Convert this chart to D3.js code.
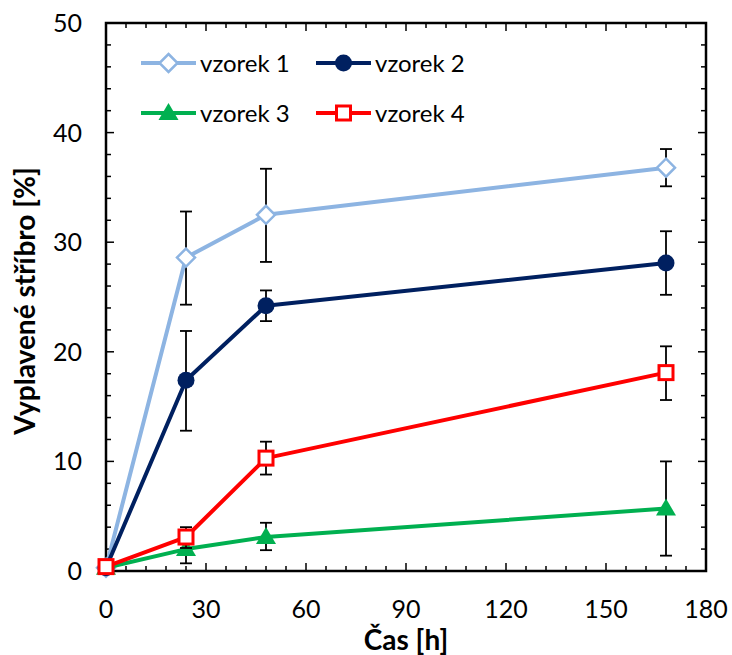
<!DOCTYPE html>
<html>
<head>
<meta charset="utf-8">
<script src="https://cdn.jsdelivr.net/npm/d3@7"></script>
<style>
  html, body { margin: 0; padding: 0; background: #fff; }
  svg { display: block; font-family: Lato, "Open Sans", sans-serif; }
</style>
</head>
<body>
<div id="chart"></div>
<script>
const times = [0, 24, 48, 168];

const vzorek1 = [0.3, 28.6, 32.5, 36.8];
const vzorek1Err = [[0.3, 0.3], [24.3, 32.8], [28.2, 36.7], [35.1, 38.5]];
const vzorek2 = [0.3, 17.4, 24.2, 28.1];
const vzorek2Err = [[0.3, 0.3], [12.8, 21.9], [22.8, 25.6], [25.2, 31.0]];
const vzorek3 = [0.3, 2.0, 3.1, 5.7];
const vzorek3Err = [[0.3, 0.3], [0.7, 3.3], [1.9, 4.4], [1.4, 10.0]];
const vzorek4 = [0.4, 3.1, 10.3, 18.1];
const vzorek4Err = [[0.4, 0.4], [2.1, 4.0], [8.8, 11.8], [15.6, 20.5]];

const xTicks = [0, 30, 60, 90, 120, 150, 180];
const yTicks = [0, 10, 20, 30, 40, 50];

const seriesDefs = [
  { name: 'vzorek 1', values: vzorek1, err: vzorek1Err, color: '#8db4e2', marker: 'diamond' },
  { name: 'vzorek 2', values: vzorek2, err: vzorek2Err, color: '#002060', marker: 'circle' },
  { name: 'vzorek 3', values: vzorek3, err: vzorek3Err, color: '#00b050', marker: 'triangle' },
  { name: 'vzorek 4', values: vzorek4, err: vzorek4Err, color: '#ff0000', marker: 'square' }
];

const W = 732, H = 655;
const margin = { top: 23, right: 26, bottom: 84, left: 106 };
const width = W - margin.left - margin.right;
const height = H - margin.top - margin.bottom;

const svg = d3.select('#chart').append('svg')
  .attr('width', W)
  .attr('height', H);

const g = svg.append('g')
  .attr('transform', `translate(${margin.left},${margin.top})`);

const x = d3.scaleLinear().domain([0, 180]).range([0, width]);
const y = d3.scaleLinear().domain([0, 50]).range([height, 0]);

// minor / major ticks pointing inward on all four sides
const xMinor = d3.range(0, 181, 6);
const yMinor = d3.range(0, 51, 2);
const tickStroke = '#000';

function tickLen(v, step) { return v % step === 0 ? 8 : 5; }

g.selectAll('.xt-b').data(xMinor).join('line')
  .attr('x1', d => x(d)).attr('x2', d => x(d))
  .attr('y1', height).attr('y2', d => height - tickLen(d, 30))
  .attr('stroke', tickStroke).attr('stroke-width', 1.5);
g.selectAll('.xt-t').data(xMinor).join('line')
  .attr('x1', d => x(d)).attr('x2', d => x(d))
  .attr('y1', 0).attr('y2', d => tickLen(d, 30))
  .attr('stroke', tickStroke).attr('stroke-width', 1.5);
g.selectAll('.yt-l').data(yMinor).join('line')
  .attr('y1', d => y(d)).attr('y2', d => y(d))
  .attr('x1', 0).attr('x2', d => tickLen(d, 10))
  .attr('stroke', tickStroke).attr('stroke-width', 1.5);
g.selectAll('.yt-r').data(yMinor).join('line')
  .attr('y1', d => y(d)).attr('y2', d => y(d))
  .attr('x1', width).attr('x2', d => width - tickLen(d, 10))
  .attr('stroke', tickStroke).attr('stroke-width', 1.5);

// frame
g.append('rect')
  .attr('width', width).attr('height', height)
  .attr('fill', 'none').attr('stroke', '#000').attr('stroke-width', 2.5);

// tick labels
g.selectAll('.xl').data(xTicks).join('text')
  .attr('x', d => x(d)).attr('y', height + 47)
  .attr('text-anchor', 'middle')
  .attr('font-size', '25px').attr('fill', '#000')
  .text(d => d);
g.selectAll('.yl').data(yTicks).join('text')
  .attr('x', -24).attr('y', d => y(d)).attr('dy', '0.36em')
  .attr('text-anchor', 'end')
  .attr('font-size', '25px').attr('fill', '#000')
  .text(d => d);

// axis titles
g.append('text')
  .attr('x', width / 2).attr('y', height + 79)
  .attr('text-anchor', 'middle')
  .attr('font-size', '28px').attr('font-weight', 'bold')
  .text('Čas [h]');
g.append('text')
  .attr('transform', 'rotate(-90)')
  .attr('x', -278).attr('y', -71)
  .attr('text-anchor', 'middle')
  .attr('font-size', '28px').attr('font-weight', 'bold')
  .text('Vyplavené stříbro [%]');

// markers
function drawMarker(sel, type, color, cx, cy) {
  if (type === 'diamond') {
    sel.append('path')
      .attr('d', `M${cx},${cy - 9}L${cx + 9},${cy}L${cx},${cy + 9}L${cx - 9},${cy}Z`)
      .attr('fill', '#fff').attr('stroke', color).attr('stroke-width', 2.5);
  } else if (type === 'circle') {
    sel.append('circle').attr('cx', cx).attr('cy', cy).attr('r', 8.5)
      .attr('fill', color);
  } else if (type === 'triangle') {
    sel.append('path')
      .attr('d', `M${cx},${cy - 10}L${cx + 10},${cy + 7}L${cx - 10},${cy + 7}Z`)
      .attr('fill', color);
  } else if (type === 'square') {
    sel.append('rect').attr('x', cx - 7).attr('y', cy - 7)
      .attr('width', 14).attr('height', 14)
      .attr('fill', '#fff').attr('stroke', color).attr('stroke-width', 3);
  }
}

const line = d3.line().x(d => x(d.t)).y(d => y(d.v));

seriesDefs.forEach(s => {
  const pts = times.map((t, i) => ({ t, v: s.values[i], lo: s.err[i][0], hi: s.err[i][1] }));
  const sg = g.append('g');

  // error bars
  pts.filter(p => p.hi - p.lo > 0.01).forEach(p => {
    const eg = sg.append('g').attr('stroke', '#000').attr('stroke-width', 1.8);
    eg.append('line').attr('x1', x(p.t)).attr('x2', x(p.t)).attr('y1', y(p.lo)).attr('y2', y(p.hi));
    eg.append('line').attr('x1', x(p.t) - 6).attr('x2', x(p.t) + 6).attr('y1', y(p.lo)).attr('y2', y(p.lo));
    eg.append('line').attr('x1', x(p.t) - 6).attr('x2', x(p.t) + 6).attr('y1', y(p.hi)).attr('y2', y(p.hi));
  });

  sg.append('path').datum(pts)
    .attr('d', line)
    .attr('fill', 'none')
    .attr('stroke', s.color)
    .attr('stroke-width', 4)
    .attr('stroke-linejoin', 'round');

  pts.forEach(p => drawMarker(sg, s.marker, s.color, x(p.t), y(p.v)));
});

// legend
const legendPos = [
  { lx: 141, ly: 63 }, { lx: 316, ly: 63 },
  { lx: 141, ly: 113 }, { lx: 316, ly: 113 }
];
seriesDefs.forEach((s, i) => {
  const lg = svg.append('g');
  const { lx, ly } = legendPos[i];
  lg.append('line')
    .attr('x1', lx).attr('x2', lx + 55)
    .attr('y1', ly).attr('y2', ly)
    .attr('stroke', s.color).attr('stroke-width', 4);
  drawMarker(lg, s.marker, s.color, lx + 27.5, ly);
  lg.append('text')
    .attr('x', lx + 59).attr('y', ly).attr('dy', '0.36em')
    .attr('font-size', '24px').attr('fill', '#000')
    .text(s.name);
});
</script>
</body>
</html>
